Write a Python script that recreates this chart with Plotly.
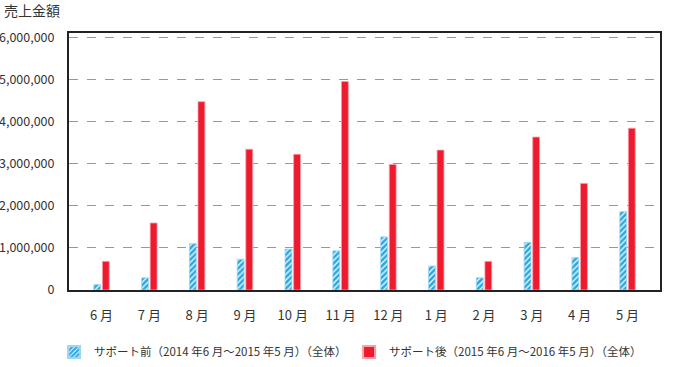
import plotly.graph_objects as go

months = ["6 月", "7 月", "8 月", "9 月", "10 月", "11 月", "12 月", "1 月", "2 月", "3 月", "4 月", "5 月"]
before = [130000, 290000, 1100000, 730000, 970000, 930000, 1260000, 570000, 290000, 1130000, 770000, 1860000]
after = [680000, 1590000, 4470000, 3340000, 3220000, 4950000, 2980000, 3320000, 680000, 3630000, 2530000, 3840000]
name_before = "サポート前（2014 年6 月～2015 年5 月）（全体）"
name_after = "サポート後（2015 年6 月～2016 年5 月）（全体）"
yticks = [0, 1000000, 2000000, 3000000, 4000000, 5000000, 6000000]

FONT = "Noto Sans CJK JP"

fig = go.Figure()
fig.add_trace(go.Bar(
    x=months, y=before, name=name_before,
    marker=dict(color="#2aa9e1",
                line=dict(color="#9fd6f2", width=0.8),
                pattern=dict(shape="/", fgcolor="white", bgcolor="#2aa9e1",
                             size=4, solidity=0.3, fillmode="replace")),
))
fig.add_trace(go.Bar(
    x=months, y=after, name=name_after,
    marker=dict(color="#ee1b2e", line=dict(color="#f7a0a8", width=0.8)),
))

fig.update_layout(
    width=676, height=367,
    margin=dict(l=69, r=16, t=33, b=77, autoexpand=False),
    paper_bgcolor="white", plot_bgcolor="white",
    barmode="group", bargap=0.64, bargroupgap=0.2,
    font=dict(family=FONT, size=13, color="#333333"),
    showlegend=True,
    legend=dict(orientation="h", xref="container", yref="container",
                x=0.08, xanchor="left", y=0.041, yanchor="middle",
                font=dict(size=11.5, color="#333333"), itemwidth=30,
                traceorder="normal", tracegroupgap=0, itemsizing="constant",
                entrywidth=250, entrywidthmode="pixels"),
    xaxis=dict(range=[-0.68, 11.68], showgrid=False, ticks="", showline=True,
               linecolor="#222222", linewidth=2, mirror=True, automargin=False,
               tickfont=dict(size=13, color="#333333"), ticklabelstandoff=12),
    yaxis=dict(range=[0, 6100000], tickvals=yticks, tickformat=",d",
               showgrid=True, gridcolor="#999999", griddash="dash", gridwidth=1,
               showline=True, linecolor="#222222", linewidth=2, mirror=True,
               zeroline=False, ticks="", ticklabelstandoff=10, automargin=False,
               tickfont=dict(size=12.5, color="#333333")),
    annotations=[dict(text="売上金額", xref="paper", yref="paper", x=0, xshift=-67,
                      y=1, yshift=35, xanchor="left", yanchor="top", showarrow=False,
                      font=dict(size=14, color="#333333", family=FONT))],
)

fig.write_html("out.html", config={"displayModeBar": False},
               post_script="document.body.style.margin='0';")
